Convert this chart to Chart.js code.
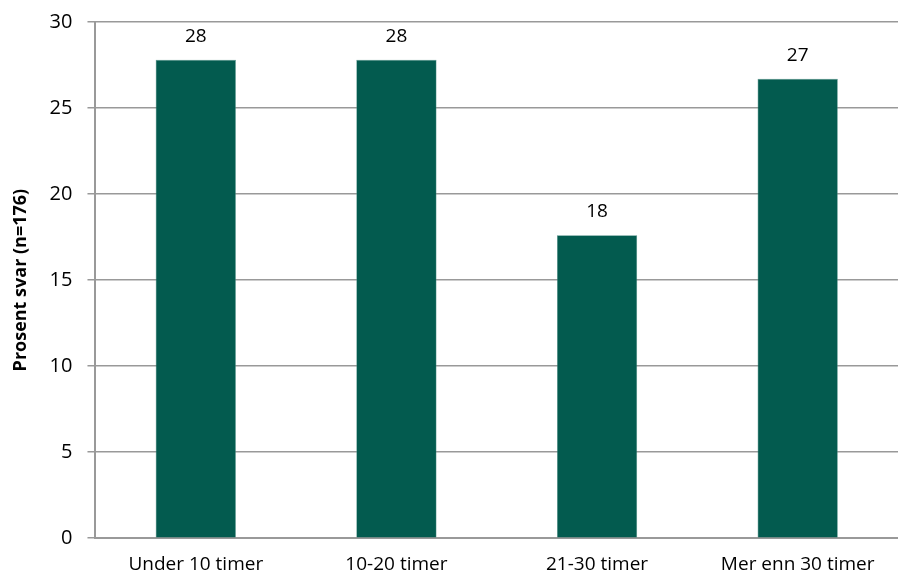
<!DOCTYPE html>
<html>
<head>
<meta charset="utf-8">
<script src="https://cdn.jsdelivr.net/npm/chart.js@4"></script>
<style>
  html, body { margin: 0; padding: 0; background: #fff; }
  #wrap { width: 898px; height: 585px; }
</style>
</head>
<body>
<div id="wrap"><canvas id="canvas" width="898" height="585"></canvas></div>
<script>
var categories = ["Under 10 timer", "10-20 timer", "21-30 timer", "Mer enn 30 timer"];
var percent = [27.8, 27.8, 17.6, 26.7];
var yTicks = [0, 5, 10, 15, 20, 25, 30];

var barColor = "#035b4f";
var gridColor = "#999999";
var fontFamily = "'Open Sans', 'DejaVu Sans', sans-serif";

// labels above the bars, rounded like the original
var valueLabels = {
  id: "valueLabels",
  afterDatasetsDraw: function(chart){
    var ctx = chart.ctx;
    var meta = chart.getDatasetMeta(0);
    ctx.save();
    ctx.fillStyle = "#000";
    ctx.font = "19px " + fontFamily;
    ctx.textAlign = "center";
    ctx.textBaseline = "alphabetic";
    for(var i = 0;i<meta.data.length;i++){
      var bar = meta.data[i];
      ctx.fillText(Math.round(percent[i]), bar.x, bar.y - 18);
    }
    ctx.restore();
  }
};

var ctx = document.getElementById("canvas").getContext("2d");
var chart = new Chart(ctx, {
  type: "bar",
  data: {
    labels: categories,
    datasets: [{
      data: percent,
      backgroundColor: barColor,
      borderColor: "#4f8f86",
      borderWidth: 0.6,
      categoryPercentage: 1,
      barPercentage: 0.4
    }]
  },
  options: {
    responsive: false,
    animation: false,
    layout: { padding: { left: 10, right: 0, top: 22, bottom: -6 } },
    plugins: {
      legend: { display: false },
      tooltip: { enabled: false }
    },
    scales: {
      x: {
        grid: { display: false, drawTicks: false },
        border: { display: true, color: gridColor, width: 2 },
        ticks: { color: "#000", font: { family: fontFamily, size: 19 }, padding: 15, maxRotation: 0 }
      },
      y: {
        min: 0,
        max: 30,
        afterBuildTicks: function(axis){
          axis.ticks = yTicks.map(function(v){ return { value: v }; });
        },
        afterFit: function(axis){
          axis.paddingTop = 0;
        },
        grid: { color: gridColor, lineWidth: 1.5, tickLength: 8 },
        border: { display: true, color: gridColor, width: 2 },
        ticks: { color: "#000", font: { family: fontFamily, size: 20 }, padding: 15 },
        title: {
          display: true,
          text: "Prosent svar (n=176)",
          color: "#000",
          font: { family: fontFamily, size: 18, weight: "bold" },
          padding: { top: 0, bottom: 3 }
        }
      }
    }
  },
  plugins: [valueLabels]
});
</script>
</body>
</html>
